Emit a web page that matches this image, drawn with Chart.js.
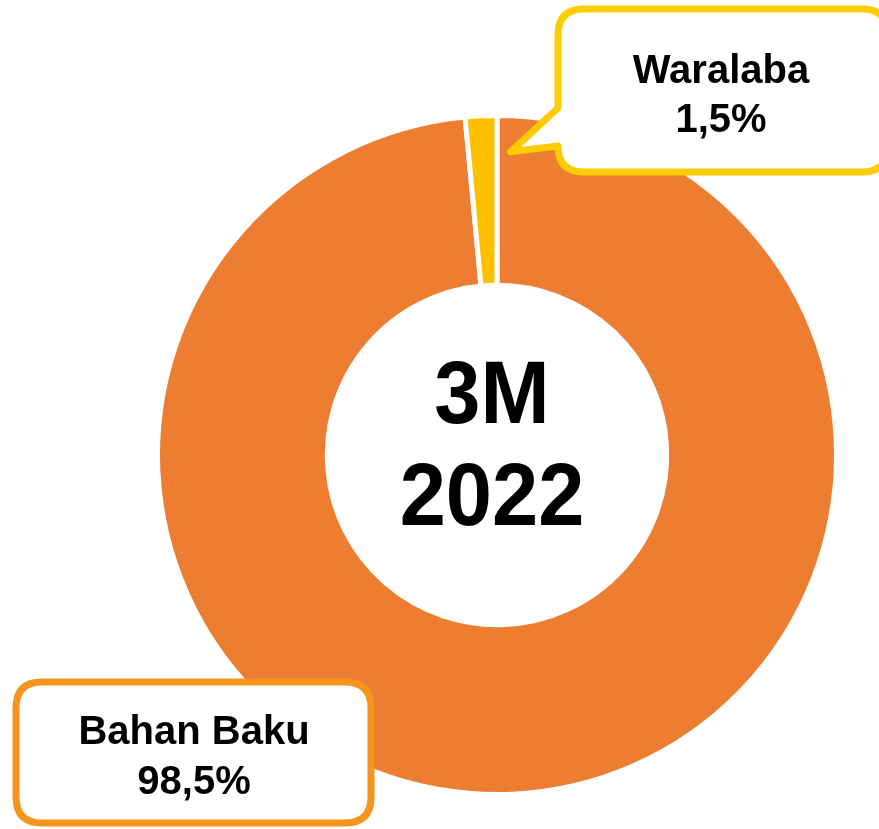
<!DOCTYPE html>
<html>
<head>
<meta charset="utf-8">
<script src="https://cdn.jsdelivr.net/npm/chart.js@4/dist/chart.umd.min.js"></script>
<style>
  html, body { margin: 0; padding: 0; background: #fff; }
  #wrap { width: 879px; height: 829px; position: relative; }
</style>
</head>
<body>
<div id="wrap"><canvas id="donut"></canvas></div>
<script>
// data
const categories = ['Bahan Baku', 'Waralaba'];
const shares = [98.5, 1.5];
const sliceColors = ['#ED7D31', '#FFC000'];
const boxColors = ['#F7941D', '#FFCC00'];
const centerLines = ['3M', '2022'];

const FONT = '"Liberation Sans", Arial, sans-serif';

function fmtPct(v) {
    return v.toFixed(1).replace('.', ',') + '%';
}

// rounded box, optional tail pointing to (tip) from the left side
function callout(ctx, x, y, w, h, r, color, tail) {
    ctx.beginPath();
    ctx.moveTo(x + r, y);
    ctx.lineTo(x + w - r, y);
    ctx.quadraticCurveTo(x + w, y, x + w, y + r);
    ctx.lineTo(x + w, y + h - r);
    ctx.quadraticCurveTo(x + w, y + h, x + w - r, y + h);
    ctx.lineTo(x + r, y + h);
    ctx.quadraticCurveTo(x, y + h, x, y + h - r);
    if (tail) {
        ctx.lineTo(tail.x, tail.y);
        ctx.lineTo(x, tail.top);
    }
    ctx.lineTo(x, y + r);
    ctx.quadraticCurveTo(x, y, x + r, y);
    ctx.closePath();
    ctx.fillStyle = '#fff';
    ctx.fill();
    ctx.lineWidth = 7;
    ctx.lineJoin = 'round';
    ctx.strokeStyle = color;
    ctx.stroke();
}

function twoLines(ctx, a, b, cx, y1, y2, size, stretch) {
    ctx.save();
    ctx.translate(cx, 0);
    ctx.scale(1, stretch || 1);
    ctx.fillStyle = '#000';
    ctx.textAlign = 'center';
    ctx.textBaseline = 'alphabetic';
    ctx.font = 'bold ' + size + 'px ' + FONT;
    ctx.fillText(a, 0, y1 / (stretch || 1));
    ctx.fillText(b, 0, y2 / (stretch || 1));
    ctx.restore();
}

const labelsPlugin = {
    id: 'labels',
    afterDraw(chart) {
        const ctx = chart.ctx;
        const arcs = chart.getDatasetMeta(0).data;
        const cx = arcs[0].x, cy = arcs[0].y;
        ctx.save();

        // center text
        twoLines(ctx, centerLines[0], centerLines[1], cx - 5, cy - 32, cy + 70, 83, 1.07);

        // Waralaba callout, tail points just past the small slice
        const w = arcs[1];
        const ang = w.endAngle + 0.045;
        const rad = w.outerRadius - 36;
        const tip = { x: cx + Math.cos(ang) * rad, y: cy + Math.sin(ang) * rad };
        callout(ctx, 558, 9, 330, 163, 26, boxColors[1], { x: tip.x, y: tip.y, top: 108 });
        twoLines(ctx, categories[1], fmtPct(shares[1]), 721, 83, 132, 40);

        // Bahan Baku callout
        callout(ctx, 16, 682, 355, 141, 26, boxColors[0], null);
        twoLines(ctx, categories[0], fmtPct(shares[0]), 194, 744, 794, 40);

        ctx.restore();
    }
};

new Chart(document.getElementById('donut'), {
    type: 'doughnut',
    data: {
        labels: categories,
        datasets: [{
            data: shares,
            backgroundColor: sliceColors,
            borderColor: '#ffffff',
            borderWidth: 5
        }]
    },
    options: {
        responsive: true,
        maintainAspectRatio: false,
        animation: false,
        radius: 339.5,
        cutout: '50%',
        layout: { padding: { left: 115, right: 0, top: 81, bottom: 0 } },
        plugins: {
            legend: { display: false },
            tooltip: { enabled: false }
        }
    },
    plugins: [labelsPlugin]
});
</script>
</body>
</html>
